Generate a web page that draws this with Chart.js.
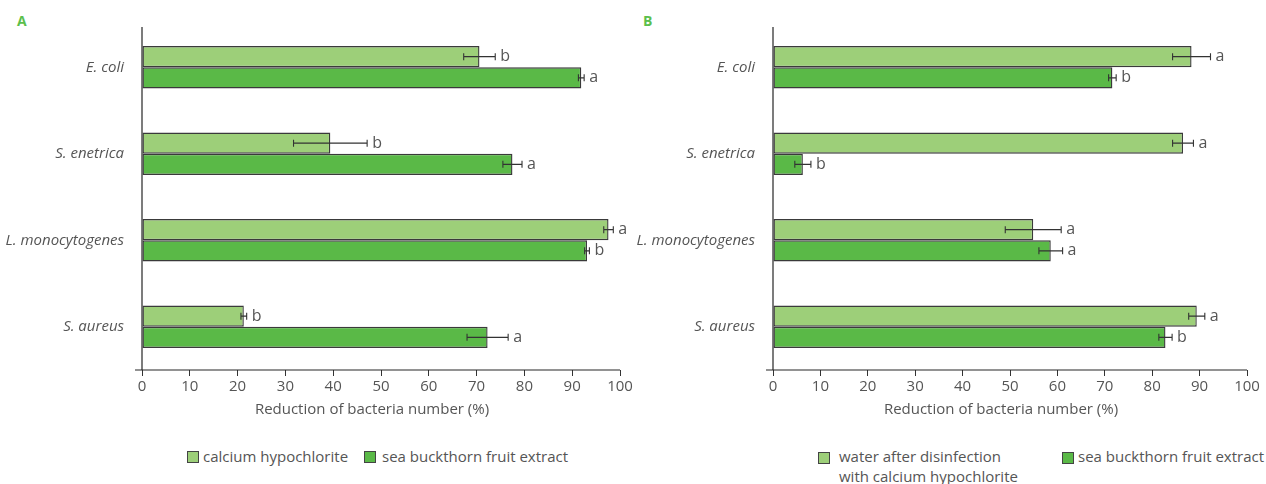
<!DOCTYPE html>
<html>
<head>
<meta charset="utf-8">
<script src="https://cdn.jsdelivr.net/npm/chart.js@4/dist/chart.umd.min.js"></script>
<style>
  body { margin: 0; background: #fff; }
  #wrap { position: relative; width: 1266px; height: 484px; font-family: "Open Sans", sans-serif; color: #555; }
  canvas { position: absolute; top: 0; }
  .panel { position: absolute; top: 11px; font-weight: bold; font-size: 14px; color: #5cbf4c; }
  .box { position: absolute; width: 10px; height: 10px; border: 1.5px solid #444; }
  .txt { position: absolute; font-size: 15px; line-height: 20px; white-space: nowrap; }
</style>
</head>
<body>
<div id="wrap">
  <div class="panel" style="left:17px">A</div>
  <div class="panel" style="left:643px">B</div>
  <canvas id="chartA" width="640" height="432" style="left:0"></canvas>
  <canvas id="chartB" width="636" height="432" style="left:630px"></canvas>

  <div class="box" style="left:187px;top:451px;background:#9dcf79"></div>
  <div class="txt" style="left:203px;top:446px">calcium hypochlorite</div>
  <div class="box" style="left:364px;top:451px;background:#5ab947"></div>
  <div class="txt" style="left:382px;top:446px">sea buckthorn fruit extract</div>

  <div class="box" style="left:818px;top:452px;background:#9dcf79"></div>
  <div class="txt" style="left:839px;top:446px">water after disinfection<br>with calcium hypochlorite</div>
  <div class="box" style="left:1062px;top:452px;background:#5ab947"></div>
  <div class="txt" style="left:1078px;top:446px">sea buckthorn fruit extract</div>
</div>
<script>
// DATA
const categories = ['E. coli', 'S. enetrica', 'L. monocytogenes', 'S. aureus'];
const xTicks = [0, 10, 20, 30, 40, 50, 60, 70, 80, 90, 100];
const xTitle = 'Reduction of bacteria number (%)';

// panel A
const hypoA = [70.6, 39.4, 97.6, 21.3];
const hypoAErr = [3.3, 7.7, 1.0, 0.6];
const hypoALetters = ['b', 'b', 'a', 'b'];
const buckA = [91.9, 77.5, 93.1, 72.3];
const buckAErr = [0.6, 2.0, 0.5, 4.3];
const buckALetters = ['a', 'a', 'b', 'a'];

// panel B
const waterB = [88.3, 86.5, 54.9, 89.4];
const waterBErr = [4.0, 2.2, 5.9, 1.7];
const waterBLetters = ['a', 'a', 'a', 'a'];
const buckB = [71.6, 6.3, 58.6, 82.8];
const buckBErr = [0.8, 1.7, 2.5, 1.4];
const buckBLetters = ['b', 'b', 'a', 'b'];

const LIGHT = '#9dcf79';
const DARK = '#5ab947';
const TEXT = '#555';

// AXIS LINES + TITLE + ERROR BARS + LETTERS
const extras = {
    id: 'extras',
    afterDatasetsDraw(chart) {
        const ctx = chart.ctx;
        const area = chart.chartArea;
        const x = chart.scales.x;
        ctx.save();
        ctx.strokeStyle = '#262626';
        ctx.lineWidth = 1.2;
        ctx.beginPath();
        ctx.moveTo(area.left, 27);
        ctx.lineTo(area.left, area.bottom);
        ctx.moveTo(area.left - 7, area.bottom);
        ctx.lineTo(area.right, area.bottom);
        ctx.stroke();

        // axis title, sits a bit left of the plot centre like the original
        ctx.fillStyle = TEXT;
        ctx.font = '15px "Open Sans"';
        ctx.textAlign = 'center';
        ctx.textBaseline = 'middle';
        ctx.fillText(xTitle, (area.left + area.right) / 2 - 9, 410);
        ctx.textAlign = 'left';

        chart.data.datasets.forEach((ds, i) => {
            const meta = chart.getDatasetMeta(i);
            meta.data.forEach((bar, j) => {
                const v = ds.data[j], e = ds.err[j];
                const x1 = x.getPixelForValue(v - e);
                const x2 = x.getPixelForValue(v + e);
                const y = bar.y;
                ctx.strokeStyle = '#333';
                ctx.lineWidth = 1.1;
                ctx.beginPath();
                ctx.moveTo(x1, y); ctx.lineTo(x2, y);
                ctx.moveTo(x1, y - 3.5); ctx.lineTo(x1, y + 3.5);
                ctx.moveTo(x2, y - 3.5); ctx.lineTo(x2, y + 3.5);
                ctx.stroke();
                ctx.font = '16px "Open Sans"';
                ctx.fillText(ds.letters[j], x2 + 5, y);
            });
        });
        ctx.restore();
    }
};

function makeChart(id, series, yWidth, rightPad) {
    return new Chart(document.getElementById(id), {
        type: 'bar',
        data: {
            labels: categories,
            datasets: series.map(s => ({
                data: s.data,
                err: s.err,
                letters: s.letters,
                backgroundColor: s.color,
                borderColor: '#3a3a3a',
                borderWidth: 1.4,
                borderSkipped: false,
                categoryPercentage: 0.49,
                barPercentage: 1.0
            }))
        },
        options: {
            indexAxis: 'y',
            responsive: false,
            animation: false,
            layout: { padding: { top: 24, right: rightPad, left: 0, bottom: 0 } },
            plugins: { legend: { display: false }, tooltip: { enabled: false } },
            scales: {
                y: {
                    grid: { display: false },
                    border: { display: false },
                    ticks: {
                        color: TEXT,
                        padding: 10,
                        font: { family: 'Open Sans', style: 'italic', size: 15 }
                    },
                    afterFit: (s) => { s.width = yWidth; }
                },
                x: {
                    min: 0,
                    max: 100,
                    afterBuildTicks: (s) => { s.ticks = xTicks.map(v => ({ value: v })); },
                    grid: { drawOnChartArea: false, drawTicks: true, tickLength: 6, color: '#333', lineWidth: 1 },
                    border: { display: false },
                    ticks: {
                        color: TEXT,
                        padding: 2,
                        font: { family: 'Open Sans', size: 15 }
                    },
                    afterFit: (s) => { s.height = 62; }
                }
            }
        },
        plugins: [extras]
    });
}

makeChart('chartA', [
    { data: hypoA, err: hypoAErr, letters: hypoALetters, color: LIGHT },
    { data: buckA, err: buckAErr, letters: buckALetters, color: DARK }
], 142, 20);

makeChart('chartB', [
    { data: waterB, err: waterBErr, letters: waterBLetters, color: LIGHT },
    { data: buckB, err: buckBErr, letters: buckBLetters, color: DARK }
], 143, 19);
</script>
</body>
</html>
